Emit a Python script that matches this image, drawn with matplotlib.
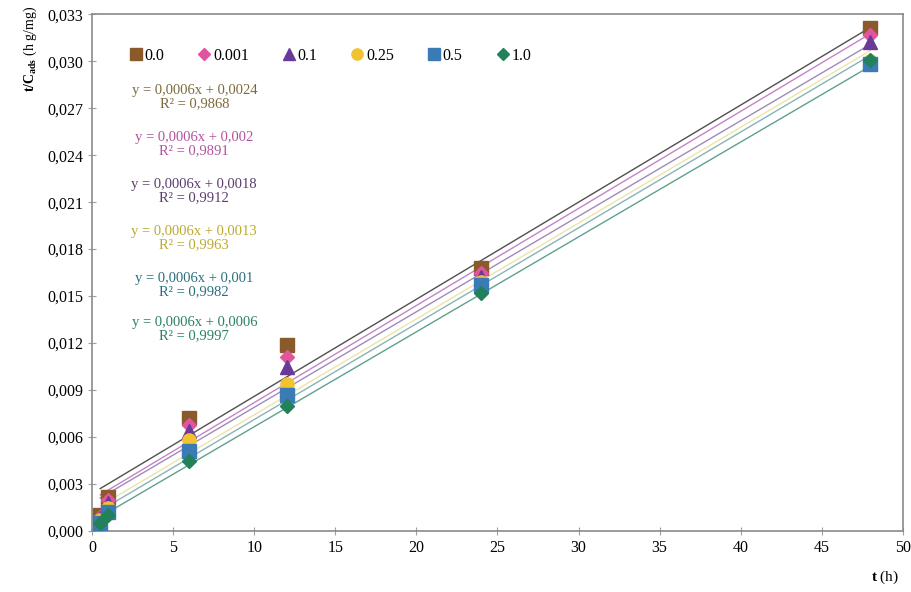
import numpy as np
import matplotlib.pyplot as plt
from matplotlib.ticker import FuncFormatter

plt.rcParams['font.family'] = ['Liberation Serif', 'DejaVu Serif']
plt.rcParams['mathtext.fontset'] = 'custom'
plt.rcParams['mathtext.rm'] = 'Liberation Serif'
plt.rcParams['mathtext.bf'] = 'Liberation Serif:bold'

# czas kontaktu (h)
t = [0.5, 1, 6, 12, 24, 48]

# t/C_ads dla kolejnych stezen
labels = ['0.0', '0.001', '0.1', '0.25', '0.5', '1.0']
y00 = [0.0010, 0.0022, 0.0072, 0.0119, 0.0168, 0.0321]
y0001 = [0.0009, 0.0020, 0.0068, 0.0111, 0.0165, 0.0317]
y01 = [0.0008, 0.0018, 0.0064, 0.0105, 0.0162, 0.0312]
y025 = [0.0007, 0.0015, 0.0058, 0.0094, 0.0159, 0.0300]
y05 = [0.0005, 0.0012, 0.0051, 0.0087, 0.0157, 0.0298]
y10 = [0.0005, 0.0010, 0.0045, 0.0080, 0.0152, 0.0301]
series = [y00, y0001, y01, y025, y05, y10]

# linie trendu
slopes = [0.00062, 0.00062, 0.00061, 0.000612, 0.000612, 0.000606]
intercepts = [0.0024, 0.0020, 0.0018, 0.0013, 0.0010, 0.0006]
r2 = [0.9868, 0.9891, 0.9912, 0.9963, 0.9982, 0.9997]

markers = ['s', 'D', '^', 'o', 's', 'D']
msizes = [10, 7.5, 10, 9.5, 10, 7.5]
colors = ['#8b5a2b', '#e0559e', '#6b3a98', '#f2c230', '#3a7ab5', '#22805a']
line_colors = ['#505050', '#c584c8', '#a08ab8', '#ece4a8', '#86b4bc', '#5fa090']
text_colors = ['#7d6a3a', '#b3529f', '#5a3c6c', '#bcaa30', '#2a6f80', '#2a8064']


def comma(v, pos=None):
    return ('%.3f' % v).replace('.', ',')


def num(v):
    s = ('%.4f' % v).rstrip('0')
    return s.replace('.', ',')


fig = plt.figure(figsize=(9.12, 5.92), dpi=100)
ax = fig.add_axes([0.101, 0.103, 0.889, 0.873])

xs = np.array([t[0], t[-1]])
for i in range(len(series)):
    ax.plot(xs, slopes[i]*xs + intercepts[i], color=line_colors[i], lw=1.0, zorder=2)

for i in range(len(series)):
    ax.plot(t, series[i], linestyle='none', marker=markers[i], markersize=msizes[i],
            color=colors[i], label=labels[i], zorder=3)

# rownania prostych
eq_y = [0.0277, 0.0247, 0.0217, 0.0187, 0.0157, 0.0129]
for i in range(len(series)):
    txt = 'y = ' + num(slopes[i]) + 'x + ' + num(intercepts[i]) + '\nR² = ' + ('%.4f' % r2[i]).replace('.', ',')
    ax.text(6.3, eq_y[i], txt, color=text_colors[i], fontsize=10.5, ha='center',
            va='center', linespacing=1.05)

ax.set_xlim(0, 50)
ax.set_ylim(0, 0.033)
ax.set_xticks(np.arange(0, 51, 5))
ax.set_yticks(np.arange(0, 0.0331, 0.003))
ax.yaxis.set_major_formatter(FuncFormatter(comma))
ax.tick_params(direction='inout', length=6, color='#a0a0a0', labelsize=11.5)
for s in ax.spines.values():
    s.set_color('#8a8a8a')
    s.set_linewidth(1.2)

ax.legend(loc='upper left', bbox_to_anchor=(0.028, 0.963), ncol=6, frameon=False,
          handlelength=0.8, handletextpad=0.15, columnspacing=2.1, fontsize=11.5,
          markerscale=0.85)

fig.text(0.033, 0.99, r'$\mathbf{t/C_{ads}}$ (h g/mg)', rotation=90, ha='center', va='top',
         fontsize=10)
fig.text(0.97, 0.025, r'$\mathbf{t}$ (h)', ha='center', va='center', fontsize=11)

plt.savefig('out.png')
